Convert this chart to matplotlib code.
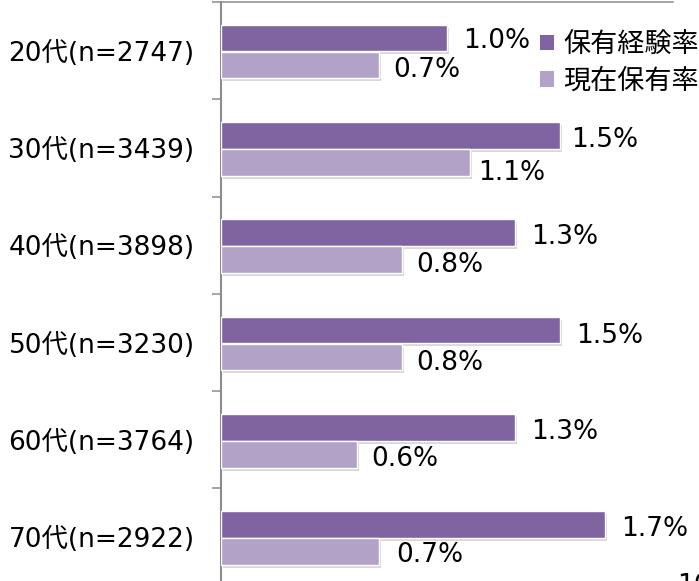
import matplotlib
matplotlib.use("Agg")
import matplotlib.pyplot as plt
from matplotlib.patches import Patch
import matplotlib.patheffects as pe

plt.rcParams['font.family'] = ['DejaVu Sans', 'Noto Sans CJK JP']

# ---- data ----
categories = ["20代(n=2747)", "30代(n=3439)", "40代(n=3898)",
              "50代(n=3230)", "60代(n=3764)", "70代(n=2922)"]
experience = [1.0, 1.5, 1.3, 1.5, 1.3, 1.7]   # 保有経験率 (%)
current = [0.7, 1.1, 0.8, 0.8, 0.6, 0.7]      # 現在保有率 (%)
series_names = ["保有経験率", "現在保有率"]
corner_text = "10"

# ---- styling ----
dark = "#8064A2"
light = "#B3A2C7"
axis_gray = "#8c8c8c"
fs = 19
PX = 0.72  # points per pixel at dpi 100

# label offsets (pixels): horizontal gap after bar end, vertical shift downward
dx_dark = [16, 11, 16, 16, 16, 16]
dx_light = [14, 9, 14, 14, 15, 17]
dy_dark = [0, 2, 2, 3, 2, 2]
dy_light = [2, 8, 3, 3, 2, 1]

fig = plt.figure(figsize=(6.99, 5.81), dpi=100)
W, H = 699, 581
top_px, band_px = 2, 97.3
bottom_px = top_px + 6 * band_px
ax = fig.add_axes([221 / W, 1 - bottom_px / H, (673 - 221) / W, (bottom_px - top_px) / H])

n = len(categories)
ys = list(range(n))
h = 0.275
off_d, off_l = -0.13, 0.148
shadow = [pe.SimplePatchShadow(offset=(1.5, -2.2), shadow_rgbFace="#666666", alpha=0.25), pe.Normal()]

bd = ax.barh([y + off_d for y in ys], experience, height=h, color=dark,
             edgecolor="white", linewidth=1.0, zorder=3)
bl = ax.barh([y + off_l for y in ys], current, height=h, color=light,
             edgecolor="white", linewidth=1.0, zorder=3)
for b in list(bd) + list(bl):
    b.set_path_effects(shadow)

for i, y in enumerate(ys):
    ax.annotate(f"{experience[i]:.1f}%", xy=(experience[i], y + off_d),
                xytext=(dx_dark[i] * PX, -(dy_dark[i] + 2.7) * PX), textcoords="offset points",
                ha="left", va="center", fontsize=fs, color="black", annotation_clip=False)
    ax.annotate(f"{current[i]:.1f}%", xy=(current[i], y + off_l),
                xytext=(dx_light[i] * PX, -(dy_light[i] + 2.7) * PX), textcoords="offset points",
                ha="left", va="center", fontsize=fs, color="black", annotation_clip=False)

ax.set_xlim(0, 2.0)
ax.set_ylim(n - 0.5, -0.5)

ax.set_yticks(ys)
ax.set_yticklabels(categories, fontsize=fs)
ax.set_yticks([y - 0.5 for y in range(n + 1)], minor=True)
ax.tick_params(axis="y", which="major", length=0, pad=19)
ax.tick_params(axis="y", which="minor", length=6.5, width=1.1, color=axis_gray, direction="out")
ax.set_xticks([])

for s in ["right", "bottom"]:
    ax.spines[s].set_visible(False)
ax.spines["left"].set_color(axis_gray)
ax.spines["left"].set_linewidth(1.5)
ax.spines["top"].set_color(axis_gray)
ax.spines["top"].set_linewidth(1.1)

handles = [Patch(facecolor=dark, edgecolor="none"), Patch(facecolor=light, edgecolor="none")]
fig.legend(handles, series_names, loc="upper left", bbox_to_anchor=(540 / W, 1 - 32 / H),
           frameon=False, borderpad=0, borderaxespad=0, handlelength=0.5, handleheight=0.5,
           handletextpad=0.37, labelspacing=0.39, fontsize=19.5)

fig.text(677 / W, 1 - 573 / H, corner_text, ha="left", va="top", fontsize=fs, color="black")

fig.savefig("out.png", dpi=100)
